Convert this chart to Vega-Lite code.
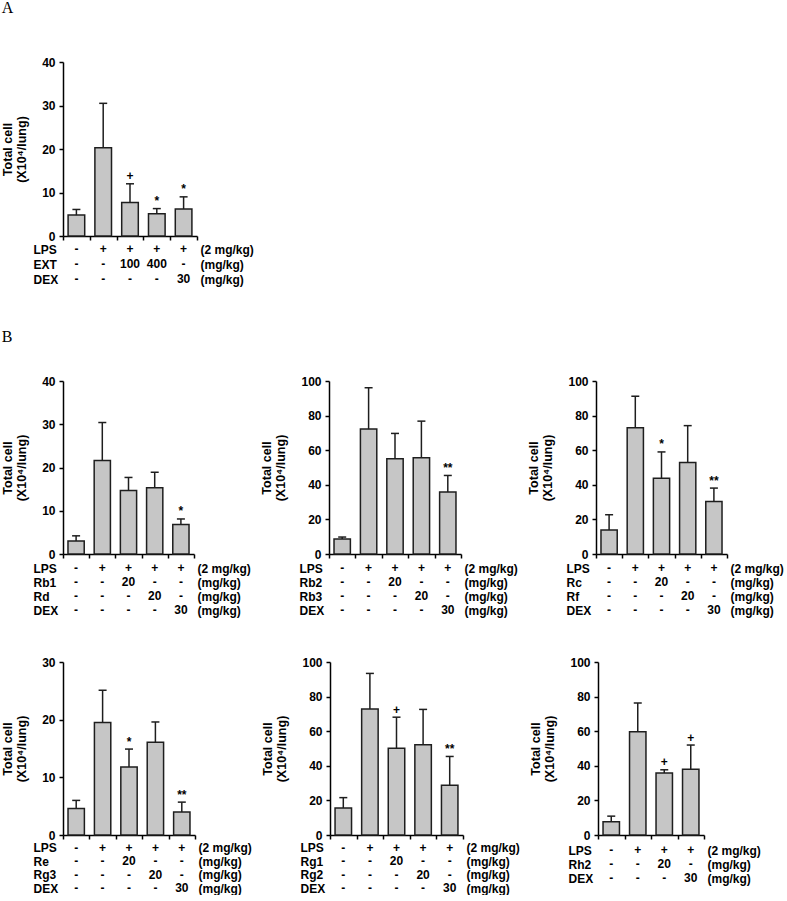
{
"$schema": "https://vega.github.io/schema/vega-lite/v6.json",
"background": "white",
"padding": {"left": 1, "top": 0, "right": 0, "bottom": 0},
"config": {
  "font": "Liberation Sans",
  "view": {"stroke": null},
  "text": {"font": "Liberation Sans", "color": "#000"},
  "axis": {"labelFont": "Liberation Sans", "labelFontWeight": "bold", "labelFontSize": 12, "labelColor": "#000", "labelPadding": 4, "labelOverlap": false,
           "titleFont": "Liberation Sans", "titleFontWeight": "bold", "titleFontSize": 12.5, "titleColor": "#000", "titleLineHeight": 14, "titlePadding": 13,
           "domainColor": "#000", "domainWidth": 1.5, "tickColor": "#000", "tickWidth": 1.5, "tickSize": 4, "grid": false},
  "title": {"anchor": "start", "font": "Liberation Serif", "fontSize": 16, "fontWeight": "normal", "color": "#000"}
},
"datasets": {
"bars": [
{"p":"A","g":"1","m":4.8,"t":6.1,"s":""},{"p":"A","g":"2","m":20.3,"t":30.5,"s":""},{"p":"A","g":"3","m":7.7,"t":12.0,"s":"+"},{"p":"A","g":"4","m":5.1,"t":6.3,"s":"*"},{"p":"A","g":"5","m":6.2,"t":9.0,"s":"*"},
{"p":"B1","g":"1","m":3.0,"t":4.2,"s":""},{"p":"B1","g":"2","m":21.6,"t":30.4,"s":""},{"p":"B1","g":"3","m":14.7,"t":17.7,"s":""},{"p":"B1","g":"4","m":15.3,"t":18.9,"s":""},{"p":"B1","g":"5","m":6.8,"t":8.1,"s":"*"},
{"p":"B2","g":"1","m":8.7,"t":9.8,"s":""},{"p":"B2","g":"2","m":72.2,"t":96.1,"s":""},{"p":"B2","g":"3","m":55.0,"t":69.7,"s":""},{"p":"B2","g":"4","m":55.6,"t":76.8,"s":""},{"p":"B2","g":"5","m":35.9,"t":45.4,"s":"**"},
{"p":"B3","g":"1","m":13.9,"t":22.7,"s":""},{"p":"B3","g":"2","m":73.0,"t":91.2,"s":""},{"p":"B3","g":"3","m":43.8,"t":59.0,"s":"*"},{"p":"B3","g":"4","m":52.9,"t":74.2,"s":""},{"p":"B3","g":"5","m":30.3,"t":38.1,"s":"**"},
{"p":"B4","g":"1","m":4.6,"t":6.0,"s":""},{"p":"B4","g":"2","m":19.5,"t":25.1,"s":""},{"p":"B4","g":"3","m":11.8,"t":14.9,"s":"*"},{"p":"B4","g":"4","m":16.1,"t":19.6,"s":""},{"p":"B4","g":"5","m":4.0,"t":5.7,"s":"**"},
{"p":"B5","g":"1","m":15.6,"t":21.6,"s":""},{"p":"B5","g":"2","m":72.8,"t":93.4,"s":""},{"p":"B5","g":"3","m":50.2,"t":68.1,"s":"+"},{"p":"B5","g":"4","m":52.1,"t":72.6,"s":""},{"p":"B5","g":"5","m":28.8,"t":45.4,"s":"**"},
{"p":"B6","g":"1","m":7.6,"t":10.9,"s":""},{"p":"B6","g":"2","m":59.7,"t":76.3,"s":""},{"p":"B6","g":"3","m":35.9,"t":37.7,"s":"+"},{"p":"B6","g":"4","m":38.0,"t":52.0,"s":"+"}
],
"tbl": [
{"p":"A","r":"LPS","g":"1","v":"-"},{"p":"A","r":"LPS","g":"2","v":"+"},{"p":"A","r":"LPS","g":"3","v":"+"},{"p":"A","r":"LPS","g":"4","v":"+"},{"p":"A","r":"LPS","g":"5","v":"+"},
{"p":"A","r":"EXT","g":"1","v":"-"},{"p":"A","r":"EXT","g":"2","v":"-"},{"p":"A","r":"EXT","g":"3","v":"100"},{"p":"A","r":"EXT","g":"4","v":"400"},{"p":"A","r":"EXT","g":"5","v":"-"},
{"p":"A","r":"DEX","g":"1","v":"-"},{"p":"A","r":"DEX","g":"2","v":"-"},{"p":"A","r":"DEX","g":"3","v":"-"},{"p":"A","r":"DEX","g":"4","v":"-"},{"p":"A","r":"DEX","g":"5","v":"30"},
{"p":"B1","r":"LPS","g":"1","v":"-"},{"p":"B1","r":"LPS","g":"2","v":"+"},{"p":"B1","r":"LPS","g":"3","v":"+"},{"p":"B1","r":"LPS","g":"4","v":"+"},{"p":"B1","r":"LPS","g":"5","v":"+"},
{"p":"B1","r":"Rb1","g":"1","v":"-"},{"p":"B1","r":"Rb1","g":"2","v":"-"},{"p":"B1","r":"Rb1","g":"3","v":"20"},{"p":"B1","r":"Rb1","g":"4","v":"-"},{"p":"B1","r":"Rb1","g":"5","v":"-"},
{"p":"B1","r":"Rd","g":"1","v":"-"},{"p":"B1","r":"Rd","g":"2","v":"-"},{"p":"B1","r":"Rd","g":"3","v":"-"},{"p":"B1","r":"Rd","g":"4","v":"20"},{"p":"B1","r":"Rd","g":"5","v":"-"},
{"p":"B1","r":"DEX","g":"1","v":"-"},{"p":"B1","r":"DEX","g":"2","v":"-"},{"p":"B1","r":"DEX","g":"3","v":"-"},{"p":"B1","r":"DEX","g":"4","v":"-"},{"p":"B1","r":"DEX","g":"5","v":"30"},
{"p":"B2","r":"LPS","g":"1","v":"-"},{"p":"B2","r":"LPS","g":"2","v":"+"},{"p":"B2","r":"LPS","g":"3","v":"+"},{"p":"B2","r":"LPS","g":"4","v":"+"},{"p":"B2","r":"LPS","g":"5","v":"+"},
{"p":"B2","r":"Rb2","g":"1","v":"-"},{"p":"B2","r":"Rb2","g":"2","v":"-"},{"p":"B2","r":"Rb2","g":"3","v":"20"},{"p":"B2","r":"Rb2","g":"4","v":"-"},{"p":"B2","r":"Rb2","g":"5","v":"-"},
{"p":"B2","r":"Rb3","g":"1","v":"-"},{"p":"B2","r":"Rb3","g":"2","v":"-"},{"p":"B2","r":"Rb3","g":"3","v":"-"},{"p":"B2","r":"Rb3","g":"4","v":"20"},{"p":"B2","r":"Rb3","g":"5","v":"-"},
{"p":"B2","r":"DEX","g":"1","v":"-"},{"p":"B2","r":"DEX","g":"2","v":"-"},{"p":"B2","r":"DEX","g":"3","v":"-"},{"p":"B2","r":"DEX","g":"4","v":"-"},{"p":"B2","r":"DEX","g":"5","v":"30"},
{"p":"B3","r":"LPS","g":"1","v":"-"},{"p":"B3","r":"LPS","g":"2","v":"+"},{"p":"B3","r":"LPS","g":"3","v":"+"},{"p":"B3","r":"LPS","g":"4","v":"+"},{"p":"B3","r":"LPS","g":"5","v":"+"},
{"p":"B3","r":"Rc","g":"1","v":"-"},{"p":"B3","r":"Rc","g":"2","v":"-"},{"p":"B3","r":"Rc","g":"3","v":"20"},{"p":"B3","r":"Rc","g":"4","v":"-"},{"p":"B3","r":"Rc","g":"5","v":"-"},
{"p":"B3","r":"Rf","g":"1","v":"-"},{"p":"B3","r":"Rf","g":"2","v":"-"},{"p":"B3","r":"Rf","g":"3","v":"-"},{"p":"B3","r":"Rf","g":"4","v":"20"},{"p":"B3","r":"Rf","g":"5","v":"-"},
{"p":"B3","r":"DEX","g":"1","v":"-"},{"p":"B3","r":"DEX","g":"2","v":"-"},{"p":"B3","r":"DEX","g":"3","v":"-"},{"p":"B3","r":"DEX","g":"4","v":"-"},{"p":"B3","r":"DEX","g":"5","v":"30"},
{"p":"B4","r":"LPS","g":"1","v":"-"},{"p":"B4","r":"LPS","g":"2","v":"+"},{"p":"B4","r":"LPS","g":"3","v":"+"},{"p":"B4","r":"LPS","g":"4","v":"+"},{"p":"B4","r":"LPS","g":"5","v":"+"},
{"p":"B4","r":"Re","g":"1","v":"-"},{"p":"B4","r":"Re","g":"2","v":"-"},{"p":"B4","r":"Re","g":"3","v":"20"},{"p":"B4","r":"Re","g":"4","v":"-"},{"p":"B4","r":"Re","g":"5","v":"-"},
{"p":"B4","r":"Rg3","g":"1","v":"-"},{"p":"B4","r":"Rg3","g":"2","v":"-"},{"p":"B4","r":"Rg3","g":"3","v":"-"},{"p":"B4","r":"Rg3","g":"4","v":"20"},{"p":"B4","r":"Rg3","g":"5","v":"-"},
{"p":"B4","r":"DEX","g":"1","v":"-"},{"p":"B4","r":"DEX","g":"2","v":"-"},{"p":"B4","r":"DEX","g":"3","v":"-"},{"p":"B4","r":"DEX","g":"4","v":"-"},{"p":"B4","r":"DEX","g":"5","v":"30"},
{"p":"B5","r":"LPS","g":"1","v":"-"},{"p":"B5","r":"LPS","g":"2","v":"+"},{"p":"B5","r":"LPS","g":"3","v":"+"},{"p":"B5","r":"LPS","g":"4","v":"+"},{"p":"B5","r":"LPS","g":"5","v":"+"},
{"p":"B5","r":"Rg1","g":"1","v":"-"},{"p":"B5","r":"Rg1","g":"2","v":"-"},{"p":"B5","r":"Rg1","g":"3","v":"20"},{"p":"B5","r":"Rg1","g":"4","v":"-"},{"p":"B5","r":"Rg1","g":"5","v":"-"},
{"p":"B5","r":"Rg2","g":"1","v":"-"},{"p":"B5","r":"Rg2","g":"2","v":"-"},{"p":"B5","r":"Rg2","g":"3","v":"-"},{"p":"B5","r":"Rg2","g":"4","v":"20"},{"p":"B5","r":"Rg2","g":"5","v":"-"},
{"p":"B5","r":"DEX","g":"1","v":"-"},{"p":"B5","r":"DEX","g":"2","v":"-"},{"p":"B5","r":"DEX","g":"3","v":"-"},{"p":"B5","r":"DEX","g":"4","v":"-"},{"p":"B5","r":"DEX","g":"5","v":"30"},
{"p":"B6","r":"LPS","g":"1","v":"-"},{"p":"B6","r":"LPS","g":"2","v":"+"},{"p":"B6","r":"LPS","g":"3","v":"+"},{"p":"B6","r":"LPS","g":"4","v":"+"},
{"p":"B6","r":"Rh2","g":"1","v":"-"},{"p":"B6","r":"Rh2","g":"2","v":"-"},{"p":"B6","r":"Rh2","g":"3","v":"20"},{"p":"B6","r":"Rh2","g":"4","v":"-"},
{"p":"B6","r":"DEX","g":"1","v":"-"},{"p":"B6","r":"DEX","g":"2","v":"-"},{"p":"B6","r":"DEX","g":"3","v":"-"},{"p":"B6","r":"DEX","g":"4","v":"30"}
]
},
"spacing": 42,
"vconcat": [
{
 "title": {"text": "A", "offset": 40},
 "spacing": 5.5, "bounds": "flush",
 "vconcat": [
  {"width": 134, "height": 174, "data": {"name": "bars"}, "transform": [{"filter": "datum.p === 'A'"}],
   "encoding": {"x": {"field": "g", "type": "ordinal", "scale": {"paddingInner": 0, "paddingOuter": 0}, "axis": {"title": null, "labels": false, "tickBand": "extent"}}},
   "layer": [
    {"mark": {"type": "bar", "width": {"band": 0.62}, "fill": "#c6c6c6", "stroke": "#1e1e1e", "strokeWidth": 1.5},
     "encoding": {"y": {"field": "m", "type": "quantitative", "scale": {"domain": [0, 40], "nice": false}, "axis": {"values": [0, 10, 20, 30, 40], "title": ["Total cell", "(X10⁴/lung)"]}}}},
    {"mark": {"type": "rule", "stroke": "#1e1e1e", "strokeWidth": 1.5}, "encoding": {"y": {"field": "m", "type": "quantitative", "axis": {"values": [0, 10, 20, 30, 40], "title": ["Total cell", "(X10⁴/lung)"]}}, "y2": {"field": "t"}}},
    {"mark": {"type": "tick", "color": "#1e1e1e", "size": 8, "thickness": 1.5, "opacity": 1}, "encoding": {"y": {"field": "t", "type": "quantitative", "axis": {"values": [0, 10, 20, 30, 40], "title": ["Total cell", "(X10⁴/lung)"]}}}},
    {"mark": {"type": "text", "fontSize": 12, "fontWeight": "bold", "baseline": "alphabetic", "dy": -3.5}, "encoding": {"y": {"field": "t", "type": "quantitative", "axis": {"values": [0, 10, 20, 30, 40], "title": ["Total cell", "(X10⁴/lung)"]}}, "text": {"field": "s"}}}
   ]},
  {"width": 134, "height": 45, "data": {"name": "tbl"}, "transform": [{"filter": "datum.p === 'A'"}],
   "encoding": {"x": {"field": "g", "type": "ordinal", "scale": {"paddingInner": 0, "paddingOuter": 0}, "axis": null}, "text": {"field": "v"}},
   "layer": [
    {"mark": {"type": "text", "fontSize": 12, "fontWeight": "bold", "baseline": "middle"},
     "encoding": {"y": {"field": "r", "type": "ordinal", "sort": null, "scale": {"type": "point", "padding": 0.5}, "axis": {"orient": "left", "title": null, "domain": false, "ticks": false, "tickSize": 0, "labelAlign": "left", "labelPadding": 30}}}},
    {"mark": {"type": "text", "opacity": 0},
     "encoding": {"y": {"field": "r", "type": "ordinal", "sort": null, "axis": {"orient": "right", "title": null, "domain": false, "ticks": false, "tickSize": 0, "labelPadding": 3, "labelExpr": "datum.value === 'LPS' ? '(2 mg/kg)' : '(mg/kg)'"}}}}
   ],
   "resolve": {"axis": {"y": "independent"}}}
 ]
},
{
 "title": {"text": "B", "offset": 29},
 "spacing": 39,
 "vconcat": [
{
 "spacing": 9,
 "hconcat": [
  {"spacing": 7, "bounds": "flush", "vconcat": [
   {"width": 131, "height": 173, "data": {"name": "bars"}, "transform": [{"filter": "datum.p === 'B1'"}],
    "encoding": {"x": {"field": "g", "type": "ordinal", "scale": {"paddingInner": 0, "paddingOuter": 0}, "axis": {"title": null, "labels": false, "tickBand": "extent"}}},
    "layer": [
     {"mark": {"type": "bar", "width": {"band": 0.62}, "fill": "#c6c6c6", "stroke": "#1e1e1e", "strokeWidth": 1.5},
      "encoding": {"y": {"field": "m", "type": "quantitative", "scale": {"domain": [0, 40], "nice": false}, "axis": {"values": [0, 10, 20, 30, 40], "title": ["Total cell", "(X10⁴/lung)"]}}}},
     {"mark": {"type": "rule", "stroke": "#1e1e1e", "strokeWidth": 1.5}, "encoding": {"y": {"field": "m", "type": "quantitative", "axis": {"values": [0, 10, 20, 30, 40], "title": ["Total cell", "(X10⁴/lung)"]}}, "y2": {"field": "t"}}},
     {"mark": {"type": "tick", "color": "#1e1e1e", "size": 8, "thickness": 1.5, "opacity": 1}, "encoding": {"y": {"field": "t", "type": "quantitative", "axis": {"values": [0, 10, 20, 30, 40], "title": ["Total cell", "(X10⁴/lung)"]}}}},
     {"mark": {"type": "text", "fontSize": 12, "fontWeight": "bold", "baseline": "alphabetic", "dy": -3.5}, "encoding": {"y": {"field": "t", "type": "quantitative", "axis": {"values": [0, 10, 20, 30, 40], "title": ["Total cell", "(X10⁴/lung)"]}}, "text": {"field": "s"}}}
    ]},
   {"width": 131, "height": 56, "data": {"name": "tbl"}, "transform": [{"filter": "datum.p === 'B1'"}],
    "encoding": {"x": {"field": "g", "type": "ordinal", "scale": {"paddingInner": 0, "paddingOuter": 0}, "axis": null}, "text": {"field": "v"}},
    "layer": [
     {"mark": {"type": "text", "fontSize": 12, "fontWeight": "bold", "baseline": "middle"},
      "encoding": {"y": {"field": "r", "type": "ordinal", "sort": null, "scale": {"type": "point", "padding": 0.5}, "axis": {"orient": "left", "title": null, "domain": false, "ticks": false, "tickSize": 0, "labelAlign": "left", "labelPadding": 30}}}},
     {"mark": {"type": "text", "opacity": 0},
      "encoding": {"y": {"field": "r", "type": "ordinal", "sort": null, "axis": {"orient": "right", "title": null, "domain": false, "ticks": false, "tickSize": 0, "labelPadding": 3, "labelExpr": "datum.value === 'LPS' ? '(2 mg/kg)' : '(mg/kg)'"}}}}
    ],
    "resolve": {"axis": {"y": "independent"}}}
  ]},
  {"spacing": 7, "bounds": "flush", "vconcat": [
   {"width": 132, "height": 173, "data": {"name": "bars"}, "transform": [{"filter": "datum.p === 'B2'"}],
    "encoding": {"x": {"field": "g", "type": "ordinal", "scale": {"paddingInner": 0, "paddingOuter": 0}, "axis": {"title": null, "labels": false, "tickBand": "extent"}}},
    "layer": [
     {"mark": {"type": "bar", "width": {"band": 0.62}, "fill": "#c6c6c6", "stroke": "#1e1e1e", "strokeWidth": 1.5},
      "encoding": {"y": {"field": "m", "type": "quantitative", "scale": {"domain": [0, 100], "nice": false}, "axis": {"values": [0, 20, 40, 60, 80, 100], "title": ["Total cell", "(X10⁴/lung)"]}}}},
     {"mark": {"type": "rule", "stroke": "#1e1e1e", "strokeWidth": 1.5}, "encoding": {"y": {"field": "m", "type": "quantitative", "axis": {"values": [0, 20, 40, 60, 80, 100], "title": ["Total cell", "(X10⁴/lung)"]}}, "y2": {"field": "t"}}},
     {"mark": {"type": "tick", "color": "#1e1e1e", "size": 8, "thickness": 1.5, "opacity": 1}, "encoding": {"y": {"field": "t", "type": "quantitative", "axis": {"values": [0, 20, 40, 60, 80, 100], "title": ["Total cell", "(X10⁴/lung)"]}}}},
     {"mark": {"type": "text", "fontSize": 12, "fontWeight": "bold", "baseline": "alphabetic", "dy": -3.5}, "encoding": {"y": {"field": "t", "type": "quantitative", "axis": {"values": [0, 20, 40, 60, 80, 100], "title": ["Total cell", "(X10⁴/lung)"]}}, "text": {"field": "s"}}}
    ]},
   {"width": 132, "height": 56, "data": {"name": "tbl"}, "transform": [{"filter": "datum.p === 'B2'"}],
    "encoding": {"x": {"field": "g", "type": "ordinal", "scale": {"paddingInner": 0, "paddingOuter": 0}, "axis": null}, "text": {"field": "v"}},
    "layer": [
     {"mark": {"type": "text", "fontSize": 12, "fontWeight": "bold", "baseline": "middle"},
      "encoding": {"y": {"field": "r", "type": "ordinal", "sort": null, "scale": {"type": "point", "padding": 0.5}, "axis": {"orient": "left", "title": null, "domain": false, "ticks": false, "tickSize": 0, "labelAlign": "left", "labelPadding": 30}}}},
     {"mark": {"type": "text", "opacity": 0},
      "encoding": {"y": {"field": "r", "type": "ordinal", "sort": null, "axis": {"orient": "right", "title": null, "domain": false, "ticks": false, "tickSize": 0, "labelPadding": 3, "labelExpr": "datum.value === 'LPS' ? '(2 mg/kg)' : '(mg/kg)'"}}}}
    ],
    "resolve": {"axis": {"y": "independent"}}}
  ]},
  {"spacing": 7, "bounds": "flush", "vconcat": [
   {"width": 131, "height": 173, "data": {"name": "bars"}, "transform": [{"filter": "datum.p === 'B3'"}],
    "encoding": {"x": {"field": "g", "type": "ordinal", "scale": {"paddingInner": 0, "paddingOuter": 0}, "axis": {"title": null, "labels": false, "tickBand": "extent"}}},
    "layer": [
     {"mark": {"type": "bar", "width": {"band": 0.62}, "fill": "#c6c6c6", "stroke": "#1e1e1e", "strokeWidth": 1.5},
      "encoding": {"y": {"field": "m", "type": "quantitative", "scale": {"domain": [0, 100], "nice": false}, "axis": {"values": [0, 20, 40, 60, 80, 100], "title": ["Total cell", "(X10⁴/lung)"]}}}},
     {"mark": {"type": "rule", "stroke": "#1e1e1e", "strokeWidth": 1.5}, "encoding": {"y": {"field": "m", "type": "quantitative", "axis": {"values": [0, 20, 40, 60, 80, 100], "title": ["Total cell", "(X10⁴/lung)"]}}, "y2": {"field": "t"}}},
     {"mark": {"type": "tick", "color": "#1e1e1e", "size": 8, "thickness": 1.5, "opacity": 1}, "encoding": {"y": {"field": "t", "type": "quantitative", "axis": {"values": [0, 20, 40, 60, 80, 100], "title": ["Total cell", "(X10⁴/lung)"]}}}},
     {"mark": {"type": "text", "fontSize": 12, "fontWeight": "bold", "baseline": "alphabetic", "dy": -3.5}, "encoding": {"y": {"field": "t", "type": "quantitative", "axis": {"values": [0, 20, 40, 60, 80, 100], "title": ["Total cell", "(X10⁴/lung)"]}}, "text": {"field": "s"}}}
    ]},
   {"width": 131, "height": 56, "data": {"name": "tbl"}, "transform": [{"filter": "datum.p === 'B3'"}],
    "encoding": {"x": {"field": "g", "type": "ordinal", "scale": {"paddingInner": 0, "paddingOuter": 0}, "axis": null}, "text": {"field": "v"}},
    "layer": [
     {"mark": {"type": "text", "fontSize": 12, "fontWeight": "bold", "baseline": "middle"},
      "encoding": {"y": {"field": "r", "type": "ordinal", "sort": null, "scale": {"type": "point", "padding": 0.5}, "axis": {"orient": "left", "title": null, "domain": false, "ticks": false, "tickSize": 0, "labelAlign": "left", "labelPadding": 30}}}},
     {"mark": {"type": "text", "opacity": 0},
      "encoding": {"y": {"field": "r", "type": "ordinal", "sort": null, "axis": {"orient": "right", "title": null, "domain": false, "ticks": false, "tickSize": 0, "labelPadding": 3, "labelExpr": "datum.value === 'LPS' ? '(2 mg/kg)' : '(mg/kg)'"}}}}
    ],
    "resolve": {"axis": {"y": "independent"}}}
  ]}
 ]
},
{
 "spacing": 9,
 "hconcat": [
  {"spacing": 6, "bounds": "flush", "vconcat": [
   {"width": 132, "height": 173, "data": {"name": "bars"}, "transform": [{"filter": "datum.p === 'B4'"}],
    "encoding": {"x": {"field": "g", "type": "ordinal", "scale": {"paddingInner": 0, "paddingOuter": 0}, "axis": {"title": null, "labels": false, "tickBand": "extent"}}},
    "layer": [
     {"mark": {"type": "bar", "width": {"band": 0.62}, "fill": "#c6c6c6", "stroke": "#1e1e1e", "strokeWidth": 1.5},
      "encoding": {"y": {"field": "m", "type": "quantitative", "scale": {"domain": [0, 30], "nice": false}, "axis": {"values": [0, 10, 20, 30], "title": ["Total cell", "(X10⁴/lung)"]}}}},
     {"mark": {"type": "rule", "stroke": "#1e1e1e", "strokeWidth": 1.5}, "encoding": {"y": {"field": "m", "type": "quantitative", "axis": {"values": [0, 10, 20, 30], "title": ["Total cell", "(X10⁴/lung)"]}}, "y2": {"field": "t"}}},
     {"mark": {"type": "tick", "color": "#1e1e1e", "size": 8, "thickness": 1.5, "opacity": 1}, "encoding": {"y": {"field": "t", "type": "quantitative", "axis": {"values": [0, 10, 20, 30], "title": ["Total cell", "(X10⁴/lung)"]}}}},
     {"mark": {"type": "text", "fontSize": 12, "fontWeight": "bold", "baseline": "alphabetic", "dy": -3.5}, "encoding": {"y": {"field": "t", "type": "quantitative", "axis": {"values": [0, 10, 20, 30], "title": ["Total cell", "(X10⁴/lung)"]}}, "text": {"field": "s"}}}
    ]},
   {"width": 132, "height": 54, "data": {"name": "tbl"}, "transform": [{"filter": "datum.p === 'B4'"}],
    "encoding": {"x": {"field": "g", "type": "ordinal", "scale": {"paddingInner": 0, "paddingOuter": 0}, "axis": null}, "text": {"field": "v"}},
    "layer": [
     {"mark": {"type": "text", "fontSize": 12, "fontWeight": "bold", "baseline": "middle"},
      "encoding": {"y": {"field": "r", "type": "ordinal", "sort": null, "scale": {"type": "point", "padding": 0.5}, "axis": {"orient": "left", "title": null, "domain": false, "ticks": false, "tickSize": 0, "labelAlign": "left", "labelPadding": 30}}}},
     {"mark": {"type": "text", "opacity": 0},
      "encoding": {"y": {"field": "r", "type": "ordinal", "sort": null, "axis": {"orient": "right", "title": null, "domain": false, "ticks": false, "tickSize": 0, "labelPadding": 3, "labelExpr": "datum.value === 'LPS' ? '(2 mg/kg)' : '(mg/kg)'"}}}}
    ],
    "resolve": {"axis": {"y": "independent"}}}
  ]},
  {"spacing": 6, "bounds": "flush", "vconcat": [
   {"width": 133, "height": 173, "data": {"name": "bars"}, "transform": [{"filter": "datum.p === 'B5'"}],
    "encoding": {"x": {"field": "g", "type": "ordinal", "scale": {"paddingInner": 0, "paddingOuter": 0}, "axis": {"title": null, "labels": false, "tickBand": "extent"}}},
    "layer": [
     {"mark": {"type": "bar", "width": {"band": 0.62}, "fill": "#c6c6c6", "stroke": "#1e1e1e", "strokeWidth": 1.5},
      "encoding": {"y": {"field": "m", "type": "quantitative", "scale": {"domain": [0, 100], "nice": false}, "axis": {"values": [0, 20, 40, 60, 80, 100], "title": ["Total cell", "(X10⁴/lung)"]}}}},
     {"mark": {"type": "rule", "stroke": "#1e1e1e", "strokeWidth": 1.5}, "encoding": {"y": {"field": "m", "type": "quantitative", "axis": {"values": [0, 20, 40, 60, 80, 100], "title": ["Total cell", "(X10⁴/lung)"]}}, "y2": {"field": "t"}}},
     {"mark": {"type": "tick", "color": "#1e1e1e", "size": 8, "thickness": 1.5, "opacity": 1}, "encoding": {"y": {"field": "t", "type": "quantitative", "axis": {"values": [0, 20, 40, 60, 80, 100], "title": ["Total cell", "(X10⁴/lung)"]}}}},
     {"mark": {"type": "text", "fontSize": 12, "fontWeight": "bold", "baseline": "alphabetic", "dy": -3.5}, "encoding": {"y": {"field": "t", "type": "quantitative", "axis": {"values": [0, 20, 40, 60, 80, 100], "title": ["Total cell", "(X10⁴/lung)"]}}, "text": {"field": "s"}}}
    ]},
   {"width": 133, "height": 54, "data": {"name": "tbl"}, "transform": [{"filter": "datum.p === 'B5'"}],
    "encoding": {"x": {"field": "g", "type": "ordinal", "scale": {"paddingInner": 0, "paddingOuter": 0}, "axis": null}, "text": {"field": "v"}},
    "layer": [
     {"mark": {"type": "text", "fontSize": 12, "fontWeight": "bold", "baseline": "middle"},
      "encoding": {"y": {"field": "r", "type": "ordinal", "sort": null, "scale": {"type": "point", "padding": 0.5}, "axis": {"orient": "left", "title": null, "domain": false, "ticks": false, "tickSize": 0, "labelAlign": "left", "labelPadding": 30}}}},
     {"mark": {"type": "text", "opacity": 0},
      "encoding": {"y": {"field": "r", "type": "ordinal", "sort": null, "axis": {"orient": "right", "title": null, "domain": false, "ticks": false, "tickSize": 0, "labelPadding": 3, "labelExpr": "datum.value === 'LPS' ? '(2 mg/kg)' : '(mg/kg)'"}}}}
    ],
    "resolve": {"axis": {"y": "independent"}}}
  ]},
  {"spacing": 8, "bounds": "flush", "vconcat": [
   {"width": 106, "height": 173, "data": {"name": "bars"}, "transform": [{"filter": "datum.p === 'B6'"}],
    "encoding": {"x": {"field": "g", "type": "ordinal", "scale": {"paddingInner": 0, "paddingOuter": 0}, "axis": {"title": null, "labels": false, "tickBand": "extent"}}},
    "layer": [
     {"mark": {"type": "bar", "width": {"band": 0.62}, "fill": "#c6c6c6", "stroke": "#1e1e1e", "strokeWidth": 1.5},
      "encoding": {"y": {"field": "m", "type": "quantitative", "scale": {"domain": [0, 100], "nice": false}, "axis": {"values": [0, 20, 40, 60, 80, 100], "title": ["Total cell", "(X10⁴/lung)"]}}}},
     {"mark": {"type": "rule", "stroke": "#1e1e1e", "strokeWidth": 1.5}, "encoding": {"y": {"field": "m", "type": "quantitative", "axis": {"values": [0, 20, 40, 60, 80, 100], "title": ["Total cell", "(X10⁴/lung)"]}}, "y2": {"field": "t"}}},
     {"mark": {"type": "tick", "color": "#1e1e1e", "size": 8, "thickness": 1.5, "opacity": 1}, "encoding": {"y": {"field": "t", "type": "quantitative", "axis": {"values": [0, 20, 40, 60, 80, 100], "title": ["Total cell", "(X10⁴/lung)"]}}}},
     {"mark": {"type": "text", "fontSize": 12, "fontWeight": "bold", "baseline": "alphabetic", "dy": -3.5}, "encoding": {"y": {"field": "t", "type": "quantitative", "axis": {"values": [0, 20, 40, 60, 80, 100], "title": ["Total cell", "(X10⁴/lung)"]}}, "text": {"field": "s"}}}
    ]},
   {"width": 106, "height": 42, "data": {"name": "tbl"}, "transform": [{"filter": "datum.p === 'B6'"}],
    "encoding": {"x": {"field": "g", "type": "ordinal", "scale": {"paddingInner": 0, "paddingOuter": 0}, "axis": null}, "text": {"field": "v"}},
    "layer": [
     {"mark": {"type": "text", "fontSize": 12, "fontWeight": "bold", "baseline": "middle"},
      "encoding": {"y": {"field": "r", "type": "ordinal", "sort": null, "scale": {"type": "point", "padding": 0.5}, "axis": {"orient": "left", "title": null, "domain": false, "ticks": false, "tickSize": 0, "labelAlign": "left", "labelPadding": 30}}}},
     {"mark": {"type": "text", "opacity": 0},
      "encoding": {"y": {"field": "r", "type": "ordinal", "sort": null, "axis": {"orient": "right", "title": null, "domain": false, "ticks": false, "tickSize": 0, "labelPadding": 3, "labelExpr": "datum.value === 'LPS' ? '(2 mg/kg)' : '(mg/kg)'"}}}}
    ],
    "resolve": {"axis": {"y": "independent"}}}
  ]}
 ]
}
 ]
}
]
}
